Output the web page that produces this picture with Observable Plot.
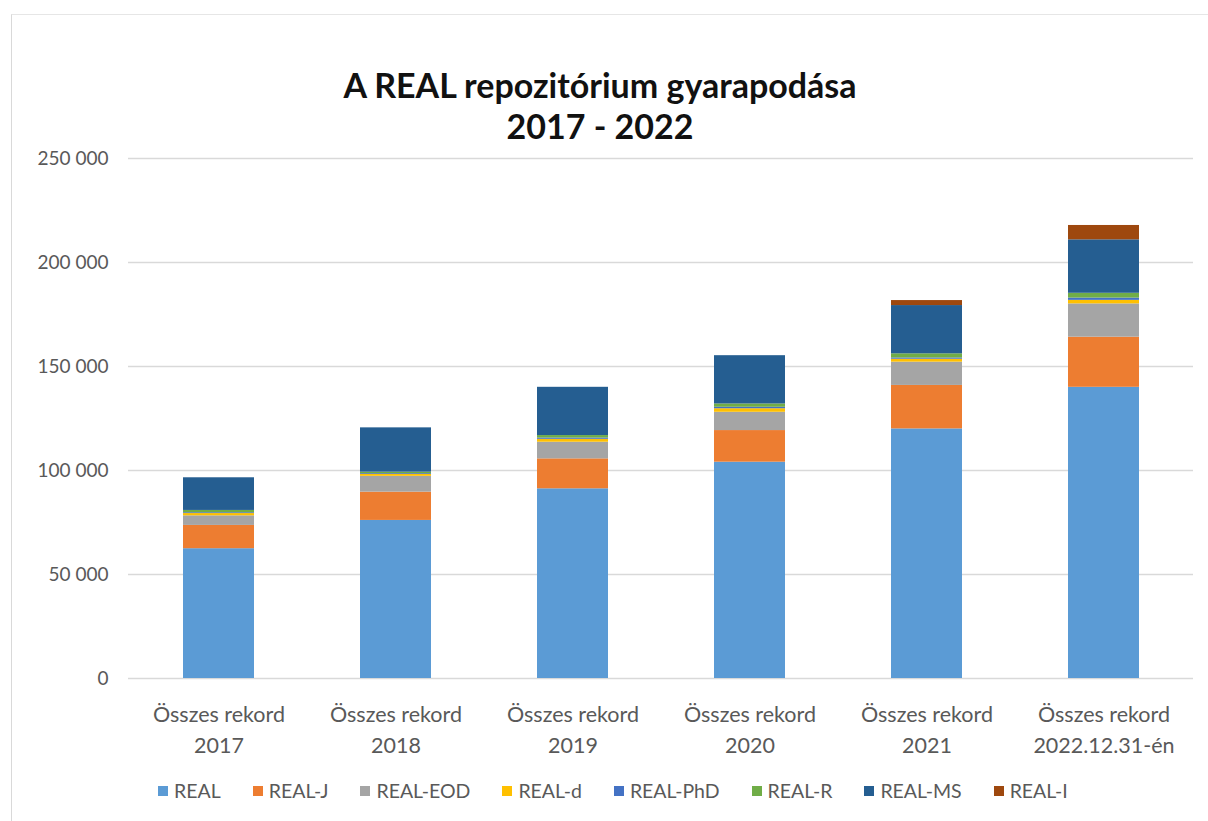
<!DOCTYPE html>
<html>
<head>
<meta charset="utf-8">
<script src="https://cdn.jsdelivr.net/npm/d3@7"></script>
<script src="https://cdn.jsdelivr.net/npm/@observablehq/plot@0.6"></script>
<style>
  html, body { margin: 0; padding: 0; background: #fff; }
  body { width: 1208px; height: 821px; position: relative; overflow: hidden; font-family: Lato, "Open Sans", sans-serif; }
  #frame { position: absolute; left: 11px; top: 14px; width: 1200px; height: 820px; border-left: 1px solid #d9d9d9; border-top: 1px solid #e6e6e6; }
  #title { position: absolute; left: 0; width: 1200px; top: 64px; text-align: center; font-weight: 700; font-size: 34px; line-height: 41px; color: #111; }
  #chart { position: absolute; left: 0; top: 140px; }
  #legend { position: absolute; top: 779px; left: 158px; display: flex; gap: 32px; font-size: 19.5px; color: #595959; align-items: center; }
  .item { display: flex; align-items: center; gap: 6px; }
  .sw { width: 10px; height: 10px; display: inline-block; }
</style>
</head>
<body>
<div id="frame"></div>
<div id="title">A REAL repozitórium gyarapodása<br>2017 - 2022</div>
<div id="chart"></div>
<div id="legend"></div>
<script>
const categories = ["Összes rekord\n2017", "Összes rekord\n2018", "Összes rekord\n2019", "Összes rekord\n2020", "Összes rekord\n2021", "Összes rekord\n2022.12.31-én"];
const seriesNames = ["REAL", "REAL-J", "REAL-EOD", "REAL-d", "REAL-PhD", "REAL-R", "REAL-MS", "REAL-I"];
const seriesColors = ["#5b9bd5", "#ed7d31", "#a5a5a5", "#ffc000", "#4472c4", "#70ad47", "#255e91", "#9e480e"];

const REAL     = [62400, 76000, 91200, 104000, 120000, 140000];
const REAL_J   = [11200, 13600, 14400, 15200, 20900, 24100];
const REAL_EOD = [4600, 7600, 8000, 8800, 11200, 16000];
const REAL_d   = [1100, 900, 1400, 1700, 1400, 1700];
const REAL_PhD = [400, 400, 600, 700, 600, 1100];
const REAL_R   = [1100, 700, 1200, 1600, 2000, 2300];
const REAL_MS  = [15700, 21300, 23200, 23200, 23200, 25700];
const REAL_I   = [0, 0, 0, 0, 2400, 6900];

const yTicks = [0, 50000, 100000, 150000, 200000, 250000];

const seriesValues = [REAL, REAL_J, REAL_EOD, REAL_d, REAL_PhD, REAL_R, REAL_MS, REAL_I];
const table = [];
categories.forEach((c, i) => {
  seriesNames.forEach((s, j) => {
    table.push({category: c, series: s, value: seriesValues[j][i]});
  });
});

const fmt = d => d3.format(",")(d).replace(/,/g, " ");

const chart = Plot.plot({
  width: 1208,
  height: 640,
  marginLeft: 128,
  marginRight: 15,
  marginTop: 18,
  marginBottom: 102,
  style: {fontFamily: "Lato, 'Open Sans', sans-serif", background: "transparent"},
  x: {domain: categories, paddingInner: 0.6, paddingOuter: 0.3, label: null},
  y: {domain: [0, 250000], label: null},
  color: {domain: seriesNames, range: seriesColors},
  marks: [
    Plot.ruleY(yTicks, {stroke: "#d9d9d9", strokeWidth: 1.3}),
    Plot.barY(table, {x: "category", y: "value", fill: "series", order: seriesNames}),
    Plot.axisY(yTicks, {tickSize: 0, tickPadding: 20, tickFormat: fmt, fontSize: 19, fill: "#595959", label: null}),
    Plot.axisX({tickSize: 0, tickPadding: 21, fontSize: 21.5, fill: "#595959", lineHeight: 1.45, label: null})
  ]
});
document.getElementById("chart").appendChild(chart);

const legend = document.getElementById("legend");
seriesNames.forEach((s, i) => {
  const it = document.createElement("div");
  it.className = "item";
  const sw = document.createElement("span");
  sw.className = "sw";
  sw.style.background = seriesColors[i];
  const tx = document.createElement("span");
  tx.textContent = s;
  it.appendChild(sw);
  it.appendChild(tx);
  legend.appendChild(it);
});
</script>
</body>
</html>
